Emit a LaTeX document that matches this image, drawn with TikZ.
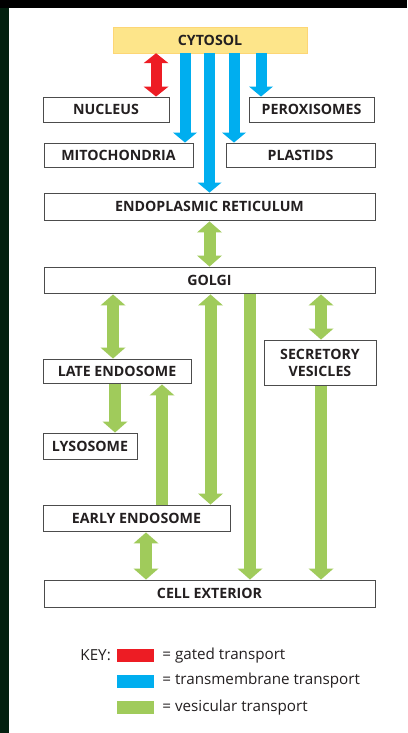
\documentclass[tikz,border=0pt]{standalone}
\usepackage{fontspec}
\setmainfont{Open Sans}
\usepackage{xcolor}
\usetikzlibrary{arrows.meta,positioning}
\definecolor{gatedred}{HTML}{ED1C24}
\definecolor{transblue}{HTML}{00AEEF}
\definecolor{vesgreen}{HTML}{A0CB5B}
\definecolor{cytyellow}{HTML}{FDE58A}
\definecolor{labelgray}{HTML}{231F20}
\definecolor{edgegreen}{HTML}{03200F}

\begin{document}
\begin{tikzpicture}[
    x=1pt,y=-1pt,
    box/.style={draw=black!70,line width=0.9pt,fill=white,minimum height=25pt,inner sep=0pt,
        text=labelgray,align=center,font=\bfseries\fontsize{14.2}{17}\selectfont},
    gated/.style={draw=gatedred,line width=11pt,
        {Triangle[length=10pt,width=25pt,line width=0pt]}-{Triangle[length=10pt,width=25pt,line width=0pt]}},
    trans/.style={draw=transblue,line width=11pt,-{Triangle[length=10pt,width=24pt,line width=0pt]}},
    ves/.style={draw=vesgreen,line width=12pt,-{Triangle[length=11pt,width=25pt,line width=0pt]}},
    vesboth/.style={draw=vesgreen,line width=12pt,
        {Triangle[length=11pt,width=25pt,line width=0pt]}-{Triangle[length=11pt,width=25pt,line width=0pt]}},
    swatch/.style={minimum width=37pt,minimum height=13pt,inner sep=0pt},
    keytext/.style={text=labelgray,font=\fontsize{15.2}{18}\selectfont,inner sep=0pt}
]
\useasboundingbox (0,0) rectangle (407,733);
\fill[black] (0,0) rectangle (407,733);
\fill[edgegreen] (0,8) rectangle (9,733);
\fill[white] (9,8) rectangle (407,733);

\node[box,fill=cytyellow,draw=cytyellow!85!orange,line width=0.5pt,minimum width=194pt,minimum height=26pt] (cytosol) at (210,40) {CYTOSOL};
\node[box,minimum width=126pt] (nucleus) at (106,109.5) {NUCLEUS};
\node[box,minimum width=125pt] (peroxisomes) at (311.5,109.5) {PEROXISOMES};
\node[box,minimum width=149pt,minimum height=24pt] (mito) at (118.5,155) {MITOCHONDRIA};
\node[box,minimum width=149pt,minimum height=24pt] (plastids) at (300.5,155) {PLASTIDS};
\node[box,minimum width=331pt,minimum height=27pt] (er) at (209.5,206.5) {ENDOPLASMIC RETICULUM};
\node[box,minimum width=331pt,minimum height=26pt] (golgi) at (209.5,280) {GOLGI};
\node[box,minimum width=148pt,minimum height=24pt] (late) at (117,371) {LATE ENDOSOME};
\node[box,minimum width=112pt,minimum height=45pt] (secretory) at (320,362.5) {SECRETORY\\VESICLES};
\node[box,minimum width=94pt,minimum height=26pt] (lysosome) at (90,446) {LYSOSOME};
\node[box,minimum width=187pt,minimum height=26pt] (early) at (136.5,518) {EARLY ENDOSOME};
\node[box,minimum width=331pt,minimum height=27pt] (exterior) at (209.5,593.5) {CELL EXTERIOR};

\coordinate (xred) at (156,0);
\coordinate (xmito) at (185,0);
\coordinate (xer) at (209.5,0);
\coordinate (xplast) at (234,0);
\coordinate (xperox) at (261,0);
\coordinate (xlate) at (113,0);
\coordinate (xearly) at (210.5,0);
\coordinate (xout) at (250,0);
\coordinate (xsec) at (321,0);
\coordinate (xlyso) at (115,0);
\coordinate (xback) at (162,0);
\coordinate (xexo) at (146,0);

\draw[gated] (cytosol.south -| xred) -- (nucleus.north -| xred);
\draw[trans] (cytosol.south -| xmito) -- (mito.north -| xmito);
\draw[trans] (cytosol.south -| xer) -- (er.north -| xer);
\draw[trans] (cytosol.south -| xplast) -- (plastids.north -| xplast);
\draw[trans] (cytosol.south -| xperox) -- (peroxisomes.north -| xperox);

\draw[vesboth] ([yshift=-1pt]er.south -| xer) -- (golgi.north -| xer);
\draw[vesboth] ([yshift=-1pt]golgi.south -| xlate) -- (late.north -| xlate);
\draw[vesboth] ([yshift=-1pt]golgi.south -| xearly) -- (early.north -| xearly);
\draw[ves] ([yshift=-1pt]golgi.south -| xout) -- (exterior.north -| xout);
\draw[vesboth] ([yshift=-1pt]golgi.south -| xsec) -- (secretory.north -| xsec);
\draw[ves] ([yshift=-1pt]late.south -| xlyso) -- (lysosome.north -| xlyso);
\draw[ves] (early.north -| xback) -- ([yshift=-1pt]late.south -| xback);
\draw[ves] ([yshift=-1pt]secretory.south -| xsec) -- (exterior.north -| xsec);
\draw[vesboth] ([yshift=-1pt]early.south -| xexo) -- (exterior.north -| xexo);

\node[keytext,anchor=east] (key) at (111,655) {KEY:};
\node[swatch,fill=gatedred] (kgated) at (135.5,655.5) {};
\node[swatch,fill=transblue] (ktrans) at (135.5,681) {};
\node[swatch,fill=vesgreen] (kves) at (135.5,707.5) {};
\node[keytext,right=8pt of kgated] (tgated) {= gated transport};
\node[keytext,right=8pt of ktrans] (ttrans) {= transmembrane transport};
\node[keytext,right=8pt of kves] (tves) {= vesicular transport};
\end{tikzpicture}
\end{document}
